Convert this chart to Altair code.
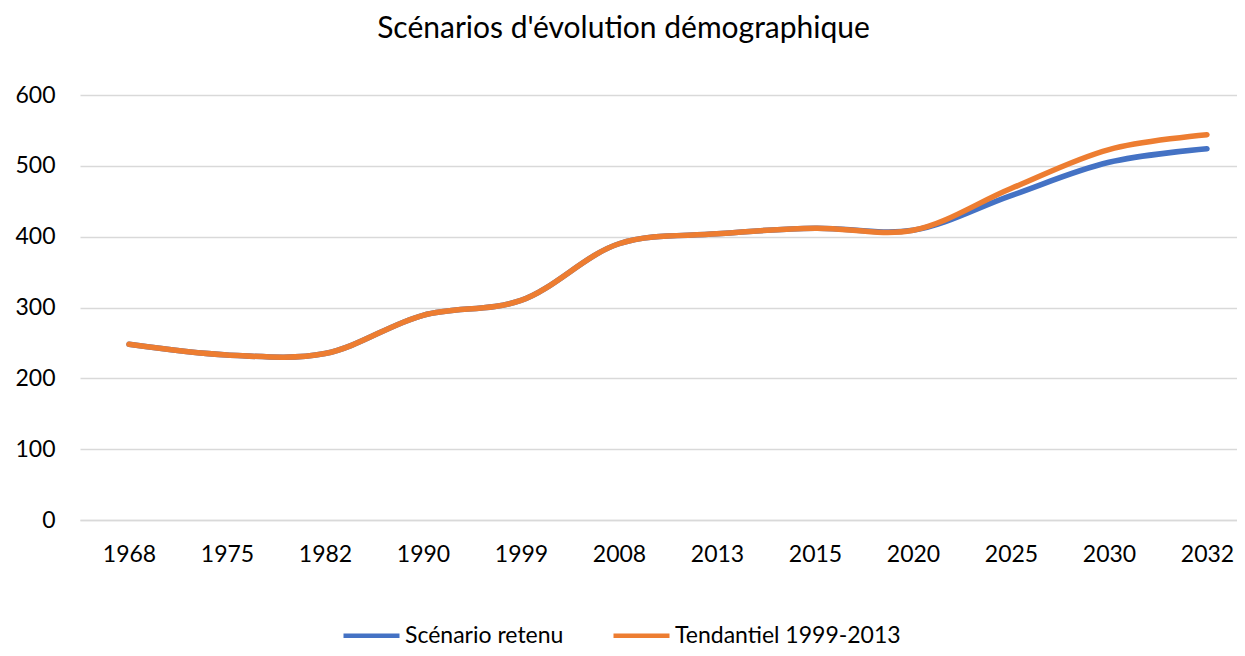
import altair as alt
import pandas as pd

years = ["1968", "1975", "1982", "1990", "1999", "2008", "2013", "2015", "2020", "2025", "2030", "2032"]
scenario_retenu = [248, 233, 235, 289, 310, 390, 404, 412, 409, 458, 505, 524]
tendantiel = [248, 233, 235, 289, 310, 390, 404, 412, 409, 468, 523, 544]
series_names = ["Scénario retenu", "Tendantiel 1999-2013"]
colors = ["#4472C4", "#ED7D31"]

rows = []
for name, vals in zip(series_names, [scenario_retenu, tendantiel]):
    for i, (y, v) in enumerate(zip(years, vals)):
        rows.append({"Année": y, "Valeur": v, "Série": name, "ordre": series_names.index(name)})
df = pd.DataFrame(rows)

FONT = "Lato"

chart = alt.Chart(df).mark_line(
    strokeWidth=5.5, interpolate="catmull-rom", strokeCap="round"
).encode(
    x=alt.X("Année:N", sort=years, title=None,
            scale=alt.Scale(type="point", padding=0.403, align=0.62),
            axis=alt.Axis(labelAngle=0, ticks=False, domain=True, domainColor="#D9D9D9",
                          domainWidth=1.5, labelPadding=23, labelFontSize=23,
                          labelFont=FONT, labelColor="#000000", grid=False)),
    y=alt.Y("Valeur:Q", title=None,
            scale=alt.Scale(domain=[0, 600], nice=False),
            axis=alt.Axis(values=[0, 100, 200, 300, 400, 500, 600], ticks=False, domain=False,
                          gridColor="#D9D9D9", gridWidth=1.5, labelPadding=25,
                          labelFontSize=23, labelFont=FONT, labelColor="#000000")),
    color=alt.Color("Série:N", sort=series_names,
                    scale=alt.Scale(domain=series_names, range=colors),
                    legend=alt.Legend(title=None, orient="none", direction="horizontal",
                                      legendX=261, legendY=510,
                                      symbolType="stroke", symbolSize=3136,
                                      symbolStrokeWidth=4.5, labelFontSize=23,
                                      labelFont=FONT, labelColor="#000000", labelLimit=0,
                                      labelOffset=3, columnPadding=40)),
    order=alt.Order("ordre:Q"),
).properties(
    width=1157,
    height=425,
    title=alt.TitleParams("Scénarios d'évolution démographique", fontSize=30, font=FONT,
                          fontWeight="normal", color="#000000", offset=40, dx=-35),
    autosize=alt.AutoSizeParams(type="none"),
    padding={"left": 72, "top": 87, "right": 0, "bottom": 128},
).configure_view(stroke=None)

chart.save("out.html", embed_options={"renderer": "svg", "actions": False})
